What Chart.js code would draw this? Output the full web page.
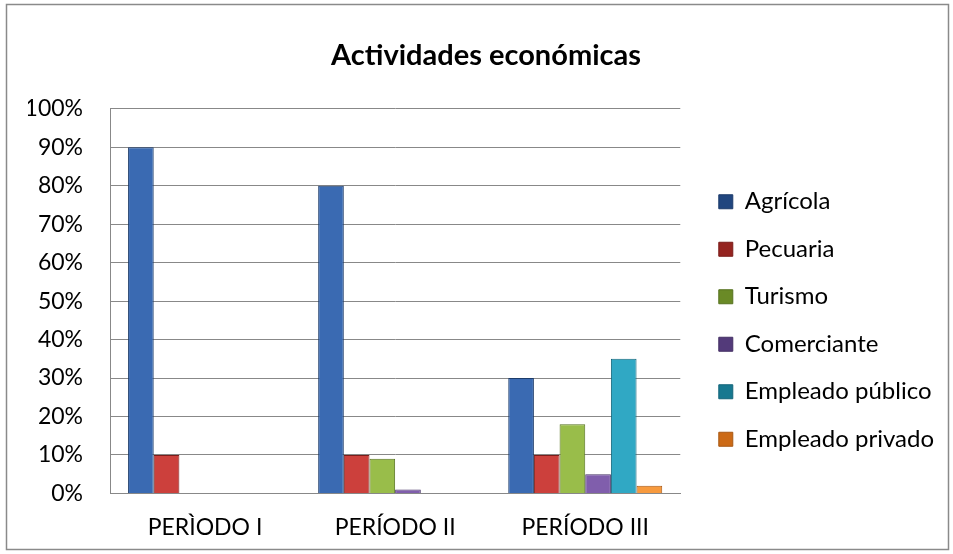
<!DOCTYPE html>
<html>
<head>
<meta charset="utf-8">
<script src="https://cdn.jsdelivr.net/npm/chart.js@4/dist/chart.umd.min.js"></script>
<style>
  body { margin: 0; background: #fff; }
  #wrap { width: 953px; height: 554px; }
</style>
</head>
<body>
<div id="wrap"><canvas id="chart" width="953" height="554"></canvas></div>
<script>
// data
const periods = ['PERÌODO I', 'PERÍODO II', 'PERÍODO III'];
const agricola = [90, 80, 30];
const pecuaria = [10, 10, 10];
const turismo = [0, 9, 18];
const comerciante = [0, 1, 5];
const empleadoPublico = [0, 0, 35];
const empleadoPrivado = [0, 0, 2];
const yTicks = [0, 10, 20, 30, 40, 50, 60, 70, 80, 90, 100];

const fontFamily = 'Lato, "Open Sans", sans-serif';

// bar fill with a bit of shading so it looks like the bevelled original
const shaded = (light, dark) => (ctx) => {
    const chart = ctx.chart;
    const el = ctx.element;
    if (!chart.chartArea || !el || el.width === undefined) return light;
    const x0 = el.x - el.width / 2;
    const g = chart.ctx.createLinearGradient(x0, 0, x0 + el.width, 0);
    g.addColorStop(0, dark);
    g.addColorStop(0.4, light);
    g.addColorStop(1, dark);
    return g;
};

const frame = {
    id: 'frame',
    afterDraw(chart) {
        const c = chart.ctx;
        c.save();
        c.strokeStyle = '#8a8a8a';
        c.lineWidth = 1.5;
        c.strokeRect(6.5, 4.5, chart.width - 11, chart.height - 9);
        c.restore();
    }
};

const ctx = document.getElementById('chart').getContext('2d');
new Chart(ctx, {
    type: 'bar',
    data: {
        labels: periods,
        datasets: [
            { label: 'Agrícola', data: agricola, backgroundColor: shaded('#3a6ab2', '#21467f'), borderColor: '#1c3b6a' },
            { label: 'Pecuaria', data: pecuaria, backgroundColor: shaded('#cc403c', '#952420'), borderColor: '#7a1d1a' },
            { label: 'Turismo', data: turismo, backgroundColor: shaded('#99bd4a', '#6a8a26'), borderColor: '#56721f' },
            { label: 'Comerciante', data: comerciante, backgroundColor: shaded('#805eac', '#533a7a'), borderColor: '#443064' },
            { label: 'Empleado público', data: empleadoPublico, backgroundColor: shaded('#30a8c4', '#177890'), borderColor: '#13657a' },
            { label: 'Empleado privado', data: empleadoPrivado, backgroundColor: shaded('#f79a3e', '#cc6a16'), borderColor: '#a85814' },
        ],
    },
    options: {
        responsive: false,
        animation: false,
        layout: { padding: { left: 28, right: 9, top: 4, bottom: 0 } },
        datasets: {
            bar: { categoryPercentage: 0.81, barPercentage: 1.0, borderWidth: 1, borderSkipped: 'bottom' },
        },
        scales: {
            y: {
                min: 0,
                max: 100,
                afterBuildTicks: (axis) => { axis.ticks = yTicks.map(v => ({ value: v })); },
                afterFit: (s) => { s.width = 82; },
                grid: { color: '#888', lineWidth: 1, drawTicks: false },
                border: { display: true, color: '#888' },
                ticks: {
                    color: '#000',
                    font: { family: fontFamily, size: 23 },
                    padding: 27,
                    callback: (v) => v + '%',
                },
            },
            x: {
                grid: { display: false },
                border: { display: true, color: '#888' },
                ticks: { color: '#000', font: { family: fontFamily, size: 23 }, padding: 12.5 },
            },
            // empty spacer between plot and legend
            gap: {
                position: 'right',
                display: true,
                grid: { display: false },
                border: { display: false },
                ticks: { display: false },
                afterFit: (s) => { s.width = 15; },
            },
        },
        plugins: {
            title: {
                display: true,
                text: 'Actividades económicas',
                color: '#000',
                font: { family: fontFamily, size: 29, weight: 'bold' },
                padding: { top: 34, bottom: 36 },
            },
            legend: {
                position: 'right',
                maxWidth: 300,
                title: {
                    display: true,
                    text: ' ',
                    font: { family: fontFamily, size: 30 },
                    padding: { top: 24, bottom: 23 },
                },
                labels: {
                    color: '#000',
                    font: { family: fontFamily, size: 24 },
                    boxWidth: 14,
                    boxHeight: 14,
                    padding: 23.5,
                },
            },
            tooltip: { enabled: false },
        },
    },
    plugins: [frame],
});
</script>
</body>
</html>
